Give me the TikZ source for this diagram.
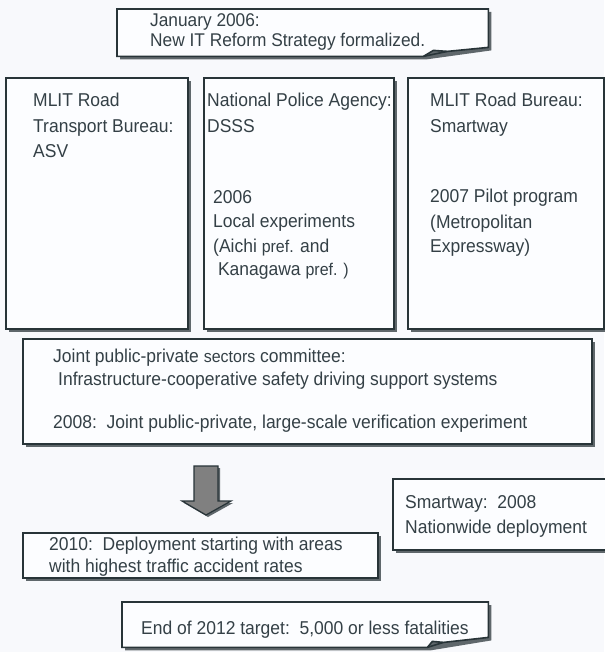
\documentclass[tikz,border=0pt]{standalone}
\usepackage{fontspec}
\setmainfont{Liberation Sans}[FakeStretch=0.94]
\usetikzlibrary{calc,shadows}
\definecolor{bgc}{RGB}{248,249,252}
\definecolor{boxc}{RGB}{252,253,255}
\definecolor{linec}{RGB}{40,52,56}
\definecolor{shadc}{RGB}{95,103,107}
\definecolor{txtc}{RGB}{52,64,70}
\definecolor{arrowc}{RGB}{128,128,128}
\newcommand\mylines[1]{\begin{tabular}[t]{@{}l@{}}#1\end{tabular}}
\newcommand\sm[1]{{\fontsize{17}{20}\selectfont #1}}
\begin{document}
\begin{tikzpicture}[x=1pt,y=-1pt,
  panel/.style={draw=linec, line width=1.6pt, fill=boxc, inner sep=0pt, anchor=north west,
    general shadow={fill=shadc, shadow xshift=3pt, shadow yshift=-3pt}},
  frame/.style={inner sep=0pt, anchor=north west},
  curl/.style={draw=linec, line width=1.6pt, fill=boxc, line join=miter},
  curlshadow/.style={fill=shadc},
  lbl/.style={anchor=base west, inner sep=0pt, text=txtc, font=\fontsize{18.6}{25.5}\selectfont},
  toplbl/.style={anchor=base west, inner sep=0pt, text=txtc, font=\fontsize{18.4}{20}\selectfont},
  blockarrow/.style={draw=linec, line width=1.2pt, fill=arrowc, line join=miter},
]
\useasboundingbox[fill=bgc] (0,0) rectangle (604,652);

% top curled box
\node[frame, minimum width=371pt, minimum height=47pt] (jan) at (117,9) {};
\fill[curlshadow] ($(jan.north west)+(3,3)$) -- ($(jan.north east)+(3,3)$) -- ($(jan.south east)+(3,-6)$)
  -- ($(jan.south east)+(-62,3)$) -- ($(jan.south west)+(3,3)$) -- cycle;
\draw[curl] (jan.north west) -- (jan.north east) -- ($(jan.south east)+(0,-9)$)
  -- ($(jan.south east)+(-41,-5)$) -- ($(jan.south east)+(-55,-6)$) -- ($(jan.south east)+(-65,0)$)
  -- (jan.south west) -- cycle;
\draw[curl, fill=none] ($(jan.south east)+(-65,0)$) -- ($(jan.south east)+(-41,-5)$);
\node[toplbl] (jantxt) at (150,27) {\mylines{January 2006:\\New IT Reform Strategy formalized.}};

% three agency boxes
\node[panel, minimum width=182pt, minimum height=251pt] (asv) at (5,77) {};
\node[panel, minimum width=190pt, minimum height=251pt] (dsss) at (203,77) {};
\node[panel, minimum width=196pt, minimum height=251pt] (smart) at (407,77) {};

\node[lbl] (asvtxt) at (33,107) {\mylines{MLIT Road\\Transport Bureau:\\ASV}};
\node[lbl] (dssstxt) at (207,107) {\mylines{National Police Agency:\\DSSS}};
\node[lbl, font=\fontsize{18.6}{24}\selectfont] (dsssexp) at (213,204)
  {\mylines{2006\\Local experiments\\(Aichi \sm{pref.} and\\\ Kanagawa \sm{pref. )}}};
\node[lbl] (smarttxt) at (430,107) {\mylines{MLIT Road Bureau:\\Smartway}};
\node[lbl, font=\fontsize{18.6}{25}\selectfont] (smartexp) at (430,203)
  {\mylines{2007 Pilot program\\(Metropolitan\\Expressway)}};

% joint committee
\node[panel, minimum width=569pt, minimum height=105pt] (joint) at (22,338) {};
\node[lbl] (jointa) at (53,362) {Joint public-private \sm{sectors} committee:};
\node[lbl] (jointb) at (58,385) {Infrastructure-cooperative safety driving support systems};
\node[lbl] (jointc) at (53,428) {2008:\ \ Joint public-private, large-scale verification experiment};

% block arrow
\coordinate (atop) at (206,466);
\fill[shadc] ($(atop)+(-12+2,2)$) -- ($(atop)+(12+2,2)$) -- ($(atop)+(12+2,35+2)$) -- ($(atop)+(25+2,35+2)$)
  -- ($(atop)+(0+2,49+2)$) -- ($(atop)+(-24+2,35+2)$) -- ($(atop)+(-12+2,35+2)$) -- cycle;
\draw[blockarrow] ($(atop)+(-12,0)$) -- ($(atop)+(12,0)$) -- ($(atop)+(12,35)$) -- ($(atop)+(25,35)$)
  -- ($(atop)+(0,49)$) -- ($(atop)+(-24,35)$) -- ($(atop)+(-12,35)$) -- cycle;

% smartway nationwide
\node[panel, minimum width=220pt, minimum height=71pt] (nation) at (392,478) {};
\node[lbl] (nationtxt) at (405,508) {\mylines{Smartway:\ \ 2008\\Nationwide deployment}};

% 2010 deployment
\node[panel, minimum width=355pt, minimum height=45pt] (deploy) at (22,532) {};
\node[lbl, font=\fontsize{18.6}{22}\selectfont] (deploytxt) at (49,550)
  {\mylines{2010:\ \ Deployment starting with areas\\with highest traffic accident rates}};

% final target curled box
\node[frame, minimum width=366pt, minimum height=45pt] (target) at (122,602) {};
\fill[curlshadow] ($(target.north west)+(3,3)$) -- ($(target.north east)+(3,3)$) -- ($(target.south east)+(3,-7)$)
  -- ($(target.south east)+(-58,3)$) -- ($(target.south west)+(3,3)$) -- cycle;
\draw[curl] (target.north west) -- (target.north east) -- ($(target.south east)+(0,-10)$)
  -- ($(target.south east)+(-45,-5)$) -- ($(target.south east)+(-56,-6)$) -- ($(target.south east)+(-61,0)$)
  -- (target.south west) -- cycle;
\draw[curl, fill=none] ($(target.south east)+(-61,0)$) -- ($(target.south east)+(-45,-5)$);
\node[lbl] (targettxt) at (141,634) {End of 2012 target:\ \ 5,000 or less fatalities};
\end{tikzpicture}
\end{document}
